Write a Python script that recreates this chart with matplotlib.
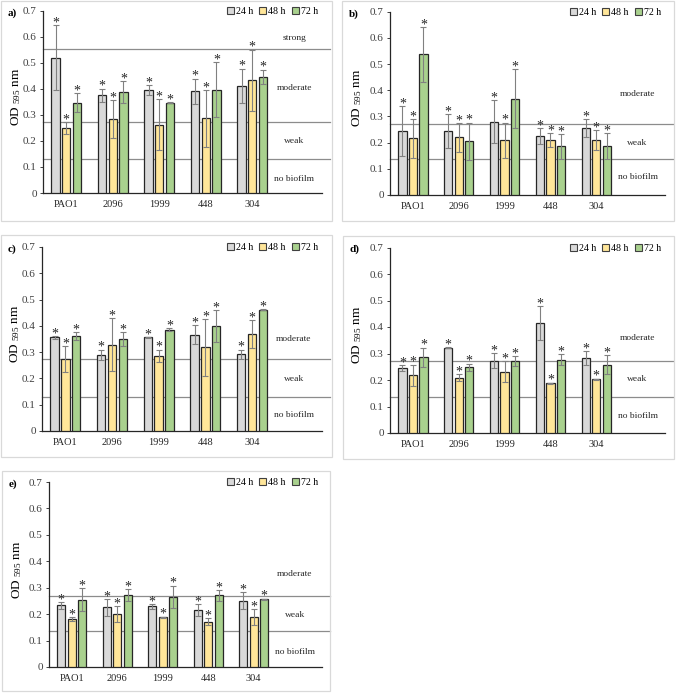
import numpy as np
import matplotlib.pyplot as plt
from matplotlib.patches import Patch, Rectangle

plt.rcParams['font.family'] = ['Liberation Serif', 'DejaVu Serif']

# --- DATA ---
strains = ["PAO1", "2096", "1999", "448", "304"]
times = ["24 h", "48 h", "72 h"]

a_means = [[0.521, 0.376, 0.396, 0.392, 0.413],
           [0.250, 0.285, 0.262, 0.287, 0.434],
           [0.347, 0.388, 0.347, 0.397, 0.447]]
a_errs = [[0.126, 0.025, 0.019, 0.048, 0.065],
          [0.023, 0.072, 0.098, 0.109, 0.117],
          [0.036, 0.043, 0.002, 0.105, 0.028]]
b_means = [[0.244, 0.245, 0.280, 0.225, 0.256],
           [0.216, 0.220, 0.209, 0.210, 0.210],
           [0.537, 0.205, 0.368, 0.186, 0.186]]
b_errs = [[0.094, 0.064, 0.082, 0.030, 0.033],
          [0.075, 0.054, 0.067, 0.025, 0.037],
          [0.105, 0.071, 0.112, 0.047, 0.049]]
c_means = [[0.356, 0.291, 0.356, 0.367, 0.292],
           [0.273, 0.329, 0.286, 0.318, 0.368],
           [0.362, 0.351, 0.386, 0.399, 0.462]]
c_errs = [[0.006, 0.019, 0.002, 0.035, 0.018],
          [0.049, 0.100, 0.024, 0.107, 0.053],
          [0.014, 0.026, 0.006, 0.060, 0.002]]
d_means = [[0.246, 0.322, 0.273, 0.414, 0.283],
           [0.218, 0.208, 0.232, 0.188, 0.203],
           [0.285, 0.248, 0.270, 0.277, 0.258]]
d_errs = [[0.011, 0.002, 0.028, 0.064, 0.026],
          [0.040, 0.013, 0.038, 0.002, 0.002],
          [0.037, 0.014, 0.019, 0.020, 0.035]]
e_means = [[0.233, 0.226, 0.229, 0.216, 0.251],
           [0.182, 0.200, 0.188, 0.172, 0.189],
           [0.255, 0.272, 0.266, 0.271, 0.257]]
e_errs = [[0.013, 0.032, 0.008, 0.023, 0.033],
          [0.008, 0.030, 0.003, 0.013, 0.031],
          [0.043, 0.022, 0.042, 0.020, 0.002]]

# biofilm class cut-offs and class labels
a_cutoffs = [0.555, 0.273, 0.132]
b_cutoffs = [0.270, 0.137]
c_cutoffs = [0.273, 0.130]
d_cutoffs = [0.271, 0.136]
e_cutoffs = [0.270, 0.135]
a_classes = ["strong", "moderate", "weak", "no biofilm"]
other_classes = ["moderate", "weak", "no biofilm"]
a_class_y = [0.595, 0.403, 0.201, 0.055]
b_class_y = [0.384, 0.198, 0.069]
c_class_y = [0.350, 0.196, 0.061]
d_class_y = [0.360, 0.203, 0.064]
e_class_y = [0.350, 0.198, 0.057]

yticks = [0, 0.1, 0.2, 0.3, 0.4, 0.5, 0.6, 0.7]

# --- STYLE ---
bar_colors = ["#d9d9d9", "#ffe699", "#a9d18e"]
W, H = 677, 693
fig = plt.figure(figsize=(W / 100, H / 100), dpi=100)


def fx(x):
    return x / W


def fy(y):
    return 1 - y / H


def panel(tag, box, rect, ylab_x, means, errs, cutoffs, classes, class_y):
    # chart area border
    x0, y0, x1, y1 = box
    fig.add_artist(Rectangle((fx(x0), fy(y1)), fx(x1 - x0), (y1 - y0) / H,
                             transform=fig.transFigure, fill=False,
                             edgecolor="#d9d9d9", linewidth=0.9))
    L, R, T, B = rect
    ax = fig.add_axes([fx(L), fy(B), fx(R - L), (B - T) / H])
    x = np.arange(len(strains))
    width = 0.18
    offsets = [-0.23, 0, 0.23]
    for i in range(3):
        m = np.array(means[i])
        e = np.array(errs[i])
        ax.bar(x + offsets[i], m, width, color=bar_colors[i],
               edgecolor="#262626", linewidth=0.9, zorder=3)
        ax.errorbar(x + offsets[i], m, yerr=e, fmt="none", ecolor="#808080",
                    elinewidth=0.8, capsize=2, capthick=0.8, zorder=4)
        for xi, top in zip(x + offsets[i], m + e):
            ax.text(xi, top - 0.005, "*", ha="center", va="baseline",
                    fontsize=10, color="#262626", zorder=5)
    for c in cutoffs:
        ax.plot([-0.5, 5.67], [c, c], color="#8c8c8c", linewidth=0.9,
                clip_on=False, zorder=2)
    for name, yy in zip(classes, class_y):
        ax.text(4.9, yy, name, ha="center", va="center", fontsize=6.8,
                color="#262626")
    ax.set_xlim(-0.5, 5.5)
    ax.set_ylim(0, 0.7)
    ax.set_xticks(x)
    ax.set_xticklabels(strains, fontsize=7.5, color="#262626")
    ax.tick_params(axis="x", length=0, pad=5)
    ax.set_yticks(yticks)
    ax.set_yticklabels([f"{v:g}" for v in yticks], fontsize=8, color="#404040")
    ax.tick_params(axis="y", length=2.5, width=0.7, color="#404040", pad=2)
    for s in ["top", "right"]:
        ax.spines[s].set_visible(False)
    for s in ["left", "bottom"]:
        ax.spines[s].set_color("#262626")
        ax.spines[s].set_linewidth(0.9)
    handles = [Patch(facecolor=bar_colors[i], edgecolor="#404040", linewidth=0.8)
               for i in range(3)]
    ax.legend(handles, times, loc="upper right", bbox_to_anchor=(0.985, 1.02),
              ncol=3, frameon=False, fontsize=7.2, handlelength=0.7,
              handleheight=0.7, handletextpad=0.2, columnspacing=0.6,
              borderpad=0, borderaxespad=0)
    fig.text(fx(x0 + 7), fy(T + 2), tag, fontsize=8, fontweight="bold",
             ha="left", va="center")
    fig.text(fx(ylab_x), fy((T + B) / 2 - 5), r"OD $\mathregular{_{595}}$ nm",
             rotation=90, ha="center", va="center", fontsize=9.5)
    return ax


panel("a)", (1, 1, 332, 221), (43, 322, 11, 193), 16, a_means, a_errs,
      a_cutoffs, a_classes, a_class_y)
panel("b)", (342, 1, 674, 221), (390, 665, 11.7, 195), 357, b_means, b_errs,
      b_cutoffs, other_classes, b_class_y)
panel("c)", (1, 235, 332, 457), (42, 322, 247, 431), 15, c_means, c_errs,
      c_cutoffs, other_classes, c_class_y)
panel("d)", (343, 236, 674, 459), (390, 665, 247.5, 433), 357, d_means, d_errs,
      d_cutoffs, other_classes, d_class_y)
panel("e)", (2, 471, 330, 691), (49, 322, 482, 667), 17, e_means, e_errs,
      e_cutoffs, other_classes, e_class_y)

fig.savefig("out.png", dpi=100)
